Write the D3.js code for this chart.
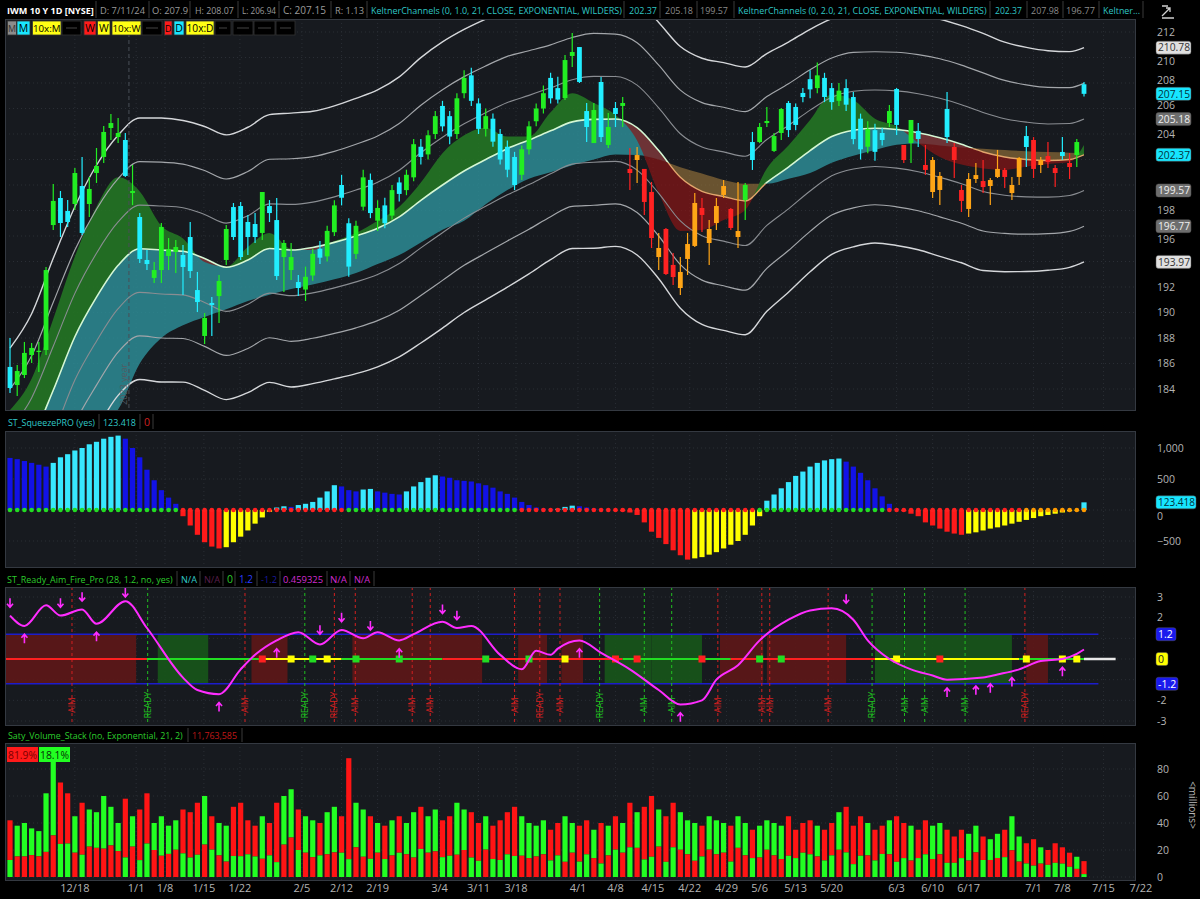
<!DOCTYPE html>
<html><head><meta charset="utf-8">
<script src="https://cdn.jsdelivr.net/npm/d3@7/dist/d3.min.js"></script>
<style>
html,body{margin:0;padding:0;background:#000;}
svg{display:block;}
text{font-family:"Open Sans","DejaVu Sans",sans-serif;}
</style></head>
<body><svg id="chart" width="1200" height="899"></svg>
<script>
// ================= DATA =================
const tickLabels=["12/18","1/1","1/8","1/15","1/22","2/5","2/12","2/19","3/4","3/11","3/18","4/1","4/8","4/15","4/22","4/29","5/6","5/13","5/20","6/3","6/10","6/17","7/1","7/8","7/15","7/22"];
const tickIdx=[9,17.5,21.5,26.9,31.9,40.5,46,51,59.6,65,70.2,78.8,84,89.2,94.3,99.4,104,109,114,123,128,133,142,146,151.7,156.9];

const open=[185.73,184.31,185.10,186.67,186.9,187.06,196.86,198.98,197.96,198.51,
199.92,198.51,200.94,202.20,204.47,203.76,203.53,199.37,197.49,194.12,
192.71,193.33,194.43,194.75,194.51,195.92,191.76,188.16,190.75,191.29,
194.12,198.27,198.35,197.10,196.94,196.24,198.35,197.25,194.35,193.33,
192.39,191.8,192.9,195.0,194.4,196.3,200.0,197.0,194.6,198.3,
200.4,197.2,198.4,197.6,200.2,199.6,200.6,203.0,202.4,204.0,
206.2,205.4,204.0,207.2,208.6,206.4,204.4,205.2,204.0,203.0,
202.2,200.8,202.8,205.0,206.0,208.4,207.6,206.82,210.12,210.82,
205.80,203.29,208.08,203.14,206.04,206.20,201.26,201.96,201.26,199.45,
194.35,196.55,193.73,191.92,194.20,195.22,198.20,195.45,197.02,199.22,
198.12,195.92,198.82,203.37,203.37,204.86,202.67,204.08,206.43,206.12,
207.22,208.3,207.6,208.4,207.6,206.6,207.6,206.9,205.2,203.0,
204.3,204.08,204.86,207.53,203.14,203.29,204.24,201.57,199.45,199.61,
205.96,202.98,199.61,198.12,200.47,200.31,199.92,200.63,201.18,199.37,
200.63,203.84,203.53,201.57,202.27,201.33,202.59,201.73,202.35,207.9];
const high=[188.0,185.88,187.69,187.61,187.69,193.57,200.08,199.53,198.82,201.33,
202.2,200.63,202.90,204.63,205.57,205.26,204.08,201.57,197.80,194.90,
193.96,197.02,195.84,195.69,195.29,197.10,193.18,189.96,191.22,192.94,
196.86,198.59,198.67,197.65,197.80,199.45,198.82,198.98,195.69,195.45,
192.94,193.6,195.0,195.6,196.8,198.8,200.8,197.4,197.2,201.2,
200.9,198.8,199.0,200.0,200.6,201.2,203.6,203.6,204.3,205.8,
206.6,205.8,207.2,209.0,209.2,206.8,206.0,205.6,204.4,203.5,
202.6,203.1,205.0,206.4,207.8,208.8,208.5,210.2,211.92,210.82,
206.43,206.43,208.47,205.65,206.51,206.9,202.9,202.98,201.26,200.24,
196.24,196.63,194.67,194.35,196.24,199.37,198.98,197.25,198.98,200.39,
198.2,200.24,200.16,204.16,204.86,206.12,204.08,206.04,206.59,206.4,
207.6,209.0,209.6,208.8,208.0,208.0,208.3,207.3,205.6,205.0,
204.8,204.5,206.27,207.61,203.14,205.1,204.86,203.14,202.20,201.02,
207.29,203.29,200.0,200.94,201.73,201.96,200.55,202.75,201.33,200.63,
202.2,204.63,203.76,202.2,203.37,201.57,203.76,202.51,203.61,208.07];
const low=[183.69,183.45,184.86,186.04,185.33,186.67,196.47,195.92,196.71,198.04,
196.08,197.49,200.16,201.73,203.53,203.29,200.63,198.43,193.88,193.33,
192.31,192.31,193.33,193.10,191.37,192.71,190.04,187.53,188.16,189.18,
193.73,195.69,194.12,194.51,195.45,195.69,197.10,192.55,191.61,192.55,
191.29,190.9,192.5,193.8,194.0,196.0,198.4,192.8,194.2,198.0,
197.4,196.4,196.6,197.3,198.7,199.2,200.3,201.6,202.0,203.6,
204.2,203.2,203.6,206.8,206.2,204.0,203.8,203.0,201.6,200.6,
199.6,200.4,202.4,204.6,205.6,206.4,206.4,206.67,209.26,208.0,
203.37,203.29,203.37,202.9,204.55,204.55,199.61,200.16,197.65,195.06,
193.33,192.94,192.16,191.37,192.94,195.14,196.31,193.73,196.47,198.98,
196.47,195.06,197.25,201.18,203.29,204.55,202.59,203.53,203.76,204.3,
206.5,206.8,207.2,206.5,205.9,206.2,205.8,203.2,202.0,202.5,
201.9,203.1,204.55,203.92,201.73,201.73,202.98,200.79,198.98,198.43,
203.29,200.55,197.88,197.49,200.16,199.37,198.43,200.55,199.76,198.82,
200.0,201.41,200.55,200.94,201.33,199.84,201.96,200.47,201.41,206.94];
const close=[184.08,185.41,186.83,187.22,187.0,193.33,198.75,197.02,197.10,200.94,
196.24,199.69,201.49,204.16,204.86,204.08,200.71,199.53,194.20,193.80,
193.33,196.71,194.98,195.14,193.57,193.25,190.82,189.57,190.59,192.47,
196.55,195.92,194.35,195.92,195.92,199.45,197.80,192.86,195.45,194.35,
191.92,192.8,194.6,194.3,196.4,198.4,199.0,193.6,196.8,200.6,
197.8,198.2,197.0,199.6,199.3,200.8,203.2,202.2,203.9,205.4,
204.6,203.8,206.8,208.4,206.6,204.4,205.4,203.4,202.0,201.2,
200.0,202.8,204.6,206.0,207.2,206.8,206.7,209.80,210.43,208.08,
204.55,205.88,203.76,204.55,205.57,206.43,200.94,202.35,198.67,195.84,
195.06,193.02,192.78,193.18,195.37,198.59,197.65,196.55,198.35,199.92,
196.63,196.39,200.0,201.96,204.55,205.02,203.84,205.96,204.31,204.71,
206.9,207.5,208.6,206.9,206.5,207.4,206.3,203.6,202.8,204.4,
202.6,203.53,205.80,204.71,201.96,205.10,203.61,201.18,201.96,200.71,
203.76,201.96,198.75,200.47,200.78,199.84,200.39,201.26,200.63,200.0,
202.12,202.98,201.26,201.96,201.80,200.94,202.27,201.41,203.37,207.15];
// trend state of candle colouring (run lengths: [count, 1=bull colours / 0=bear colours])
const trendRuns=[[86,1],[16,0],[22,1],[1,0],[2,1],[3,0],[1,1],[10,0],[1,1],[4,0],[1,1],[1,0],[2,1]];

// ribbon / keltner readings (bar index, price)
const ribIdx=[0,3,6,9,12,15,18,21,24,27,30,33,36,39,42,45,48,51,54,57,60,63,66,69,72,75,78,81,84,87,90,93,96,99,102,105,108,111,114,117,120,123,126,129,132,135,138,141,144,147,149];
const ribMid=[177.6,180.0,183.9,188.1,191.2,193.7,195.0,194.9,194.8,194.24,193.55,194.12,195.02,194.9,195.1,195.5,196.0,196.6,197.5,198.8,200.0,201.1,202.0,202.85,203.53,204.25,204.95,205.15,205.18,204.5,202.7,200.6,199.5,199.1,198.75,200.2,201.4,202.7,203.8,204.3,204.45,204.35,204.1,203.7,203.2,202.59,202.2,202.0,201.92,202.0,202.37];
const ribFast=[182.35,184.8,189.5,194.4,198.3,200.6,199.5,196.8,195.8,193.96,193.6,195.14,196.24,195.0,194.9,195.6,196.24,197.2,198.3,200.2,202.5,203.9,204.5,203.8,203.8,205.7,207.2,206.43,205.49,203.5,199.37,196.4,196.47,197.25,198.04,201.3,203.1,205.1,207.1,206.67,205.2,204.6,203.3,202.2,201.6,201.3,201.18,201.45,201.65,201.8,203.14];
const ribSlow=[176.0,177.3,178.7,179.9,181.1,182.4,186.0,188.0,189.0,189.65,190.25,190.9,191.4,191.85,192.2,192.6,193.1,193.8,194.51,195.5,196.5,197.2,198.5,199.6,200.5,201.0,201.55,202.0,202.4,202.35,202.0,201.4,200.9,200.4,200.1,200.1,200.5,200.95,201.75,202.3,202.75,203.15,203.25,203.1,202.95,202.85,202.75,202.65,202.58,202.53,202.51];
const ribAtr=[3.2,3.3,3.45,3.4,3.45,3.4,3.42,3.45,3.42,3.45,3.46,3.47,3.5,3.58,3.56,3.57,3.6,3.62,3.66,3.73,3.74,3.7,3.67,3.62,3.5,3.37,3.31,3.37,3.33,3.33,3.35,3.42,3.48,3.5,3.5,3.37,3.27,3.17,3.08,3.05,3.0,3.03,3.06,3.1,3.1,3.1,3.0,2.93,2.87,2.82,2.80];
const keltnerMult=[1,2,3];

// squeeze momentum
const sqz=[840,820,790,760,730,700,760,850,900,960,1000,1060,1100,1150,1180,1200,1150,1000,850,650,480,320,200,100,
-100,-250,-400,-520,-590,-620,-600,-520,-430,-330,-220,-120,-30,40,60,50,80,100,130,200,300,400,380,320,300,330,340,
300,280,260,250,300,380,450,520,560,540,520,480,470,460,430,400,360,300,260,200,130,80,40,20,10,20,50,70,
60,40,20,10,5,-10,-20,-40,-80,-200,-350,-450,-550,-650,-730,-800,-780,-760,-720,-680,-620,-560,-500,-400,-250,-100,
150,250,350,450,550,620,700,760,800,820,830,780,700,600,480,350,220,100,20,
-20,-60,-100,-200,-250,-300,-350,-380,-400,-380,-360,-330,-300,-280,-250,-220,-190,-160,-130,-100,-80,-60,-40,-20,-10,123.418];
const sqzDotRuns=[[24,"g"],[23,"r"],[24,"g"],[33,"r"],[18,"g"],[19,"r"],[9,"o"]];

// ready aim fire
const oscIdx=[0,2,5,7,10,12,16,19,24,26,29,32,34,37,40,43,46,49,51,54,56,60,62,64,68,71,73,75,76,79,82,86,90,93,96,98,101,104,108,111,114,117,119,122,125,128,130,135,137,140,143,146,148,149];
const oscVal=[2.1,1.6,2.6,2.1,2.4,1.7,2.8,1.5,-0.9,-1.5,-1.7,-0.5,0.2,0.9,1.3,0.7,1.4,1.0,1.3,0.9,1.2,1.8,1.5,1.6,0.2,-0.5,0.4,0.2,0.5,0.9,0.3,-0.5,-1.5,-2.2,-2.0,-1.0,-0.3,0.9,1.9,2.35,2.45,1.9,0.9,0.0,-0.5,-0.8,-1.0,-0.9,-0.75,-0.5,-0.1,0.0,0.25,0.459];
const zoneFrom=[-1,21,34,48,71,77,83,89.5,99,105.5,120.5,124.5,141.5];
const zoneTo=[17,27,38,65,74,79,88.5,95.5,104,115.5,123.5,138.5,143.5];
const zoneKind=["r","g","r","r","r","r","g","g","r","r","g","g","r"];
const zeroFrom=[-1,19,35,46,60,85,100,120,140];
const zeroTo=[19,35,46,60,85,100,120,140,149];
const zeroKind=["r","g","y","g","r","g","r","y","g"];
const squareIdx=[35,39,42,44,48,54,66,72,77,84,87,96,104,107,123,129,141,146,148];
const squareKind=["r","y","g","y","g","g","g","g","y","r","r","r","g","g","y","r","y","y","y"];
const downArrowIdx=[0,7,10,16,43,46,50,60,62,116];
const downArrowVal=[2.5,2.5,2.8,3.0,1.2,1.8,1.4,2.2,1.9,2.7];
const upArrowIdx=[2,12,29,37,54,79,93,130,134,136,139,146];
const upArrowVal=[1.2,1.3,-2.1,0.5,0.5,0.5,-2.6,-1.4,-1.3,-1.2,-0.9,-0.4];
const signalIdx=[8.6,19.1,32.6,40.9,45,47.9,55.8,58.3,70,73.5,76.3,81.8,88,91.8,98.2,104.3,105.4,113.5,119.6,124.1,126.9,132.5,140.8];
const signalText=["AIM","READY","AIM","READY","READY","AIM","AIM","AIM","AIM","READY","AIM","READY","AIM","AIM","AIM","AIM","AIM","AIM","READY","AIM","AIM","AIM","READY"];
const signalKind=["r","g","r","g","r","r","r","r","r","r","r","g","g","g","r","r","r","r","g","g","g","g","r"];

// volume (millions) and buy share (%)
const volume=[42,38,40,36,34,62,88,70,62,45,55,50,48,60,52,40,58,45,50,62,
40,45,38,42,50,48,55,60,45,40,38,52,55,42,38,45,40,55,60,65,
50,45,42,40,48,52,45,88,55,50,45,40,38,42,45,40,48,52,45,50,
42,45,55,50,48,40,45,38,42,48,52,45,40,38,42,35,40,45,40,38,
42,35,40,38,45,40,55,48,52,60,50,45,55,48,42,40,38,45,42,40,
38,45,40,35,38,42,40,38,45,35,40,42,38,35,40,48,52,38,45,40,
35,38,42,45,40,38,35,42,38,40,35,30,35,32,38,30,28,32,35,45,
30,25,28,22,20,25,22,18,15,11.76];
const buyPct=[30,60,62,55,55,70,65,35,40,60,30,55,55,65,55,52,25,50,25,40,
50,65,55,52,35,30,30,60,45,60,70,30,28,40,40,70,40,20,60,55,
40,60,65,40,65,65,40,15,60,70,30,55,35,62,40,58,70,40,60,62,
35,35,70,60,30,30,55,35,30,35,30,65,65,60,60,35,40,75,55,30,
40,60,25,58,45,55,40,55,25,25,55,25,40,58,60,70,40,55,60,55,
30,52,60,40,62,52,60,65,35,40,45,40,60,35,40,58,35,25,35,60,
35,45,60,25,35,68,40,40,65,58,30,35,40,62,52,42,55,56,42,56,
62,40,30,55,45,42,45,42,60,18.1];

// axis ticks
const priceTicks=[184,186,188,190,192,194,196,198,200,202,204,206,208,210,212];
const sqzTicks=[-500,0,500,1000];
const rafTicks=[-3,-2,-1,0,1,2,3];
const volTicks=[0,20,40,60,80];

// ================= DRAW =================
const svg=d3.select("#chart");
const PL=5, PR=1135, AX=1157;
const x=d3.scaleLinear().domain([0,149]).range([10,1084]);
const step=x(1)-x(0);
const P={price:[19,410],sq:[431,567],raf:[587,725],vol:[743,880]};
const yP=d3.scaleLinear().domain([184,212]).range([389,32]);
const yS=d3.scaleLinear().domain([-500,1000]).range([541,448]);
const yR=d3.scaleLinear().domain([-3,3]).range([721,597]);
const yV=d3.scaleLinear().domain([0,80]).range([877,769]);
const N=open.length;
const bars=d3.range(N);
const trend=[];trendRuns.forEach(([n,v])=>{for(let k=0;k<n;k++)trend.push(v);});
const dotKind=[];sqzDotRuns.forEach(([n,v])=>{for(let k=0;k<n;k++)dotKind.push(v);});

// shrink a text until it fits a width
function fit(sel,w,size){
  sel.attr("font-size",size);
  const n=sel.node(),len=n.getComputedTextLength();
  if(len>w) sel.attr("font-size",(size*w/len).toFixed(2));
  return sel;
}

svg.append("rect").attr("width",1200).attr("height",899).attr("fill","#000");
const defs=svg.append("defs");
Object.entries(P).forEach(([k,[t,b]])=>{
  svg.append("rect").attr("x",PL+0.5).attr("y",t+0.5).attr("width",PR-PL).attr("height",b-t)
    .attr("fill","#171a1f").attr("stroke","#343941");
  defs.append("clipPath").attr("id","clip-"+k).append("rect").attr("x",PL+1).attr("y",t+1).attr("width",PR-PL-1).attr("height",b-t-1);
});

// grid
function grid(key,scale,ticks){
  const [t,b]=P[key];
  const g=svg.append("g").attr("clip-path","url(#clip-"+key+")");
  g.selectAll("line.v").data(tickIdx).join("line").attr("x1",d=>x(d)).attr("x2",d=>x(d)).attr("y1",t).attr("y2",b)
    .attr("stroke","#2a2e35").attr("stroke-dasharray","1,3");
  g.selectAll("line.h").data(ticks).join("line").attr("x1",PL).attr("x2",PR).attr("y1",d=>scale(d)).attr("y2",d=>scale(d))
    .attr("stroke","#2a2e35").attr("stroke-dasharray","1,3");
}
grid("price",yP,priceTicks);grid("sq",yS,sqzTicks);grid("raf",yR,rafTicks);grid("vol",yV,volTicks);

// ---------- price panel ----------
const rib=ribIdx.map((d,i)=>({i:d,mid:ribMid[i],fast:ribFast[i],slow:ribSlow[i],atr:ribAtr[i]}));
const curve=d3.curveMonotoneX;
defs.append("clipPath").attr("id","aboveMid").append("path")
  .attr("d",d3.area().x(d=>x(d.i)).y0(-50).y1(d=>yP(d.mid)).curve(curve)(rib));
defs.append("clipPath").attr("id","belowMid").append("path")
  .attr("d",d3.area().x(d=>x(d.i)).y0(d=>yP(d.mid)).y1(600).curve(curve)(rib));
defs.append("clipPath").attr("id","aboveSlow").append("path")
  .attr("d",d3.area().x(d=>x(d.i)).y0(-50).y1(d=>yP(d.slow)).curve(curve)(rib));
defs.append("clipPath").attr("id","belowSlow").append("path")
  .attr("d",d3.area().x(d=>x(d.i)).y0(d=>yP(d.slow)).y1(600).curve(curve)(rib));
const gp=svg.append("g").attr("clip-path","url(#clip-price)");
const areaFM=d3.area().x(d=>x(d.i)).y0(d=>yP(d.mid)).y1(d=>yP(d.fast)).curve(curve);
const areaMS=d3.area().x(d=>x(d.i)).y0(d=>yP(d.mid)).y1(d=>yP(d.slow)).curve(curve);
gp.append("g").attr("clip-path","url(#belowMid)").append("path").attr("d",areaMS(rib)).attr("fill","#2d8c95").attr("opacity",0.85);
gp.append("g").attr("clip-path","url(#aboveMid)").append("path").attr("d",areaMS(rib)).attr("fill","#a07a3c").attr("opacity",0.6);
gp.append("g").attr("clip-path","url(#aboveMid)").append("path").attr("d",areaFM(rib)).attr("fill","#237523").attr("opacity",0.9);
gp.append("g").attr("clip-path","url(#belowMid)").append("path").attr("d",areaFM(rib)).attr("fill","#8a1616").attr("opacity",0.7);
// keltner bands
const bandStyle={1:["#8a8d92",1.1],2:["#a3a6aa",1.2],3:["#d5d7da",1.4]};
keltnerMult.forEach(k=>{
  [1,-1].forEach(s=>{
    gp.append("path").attr("d",d3.line().x(d=>x(d.i)).y(d=>yP(d.mid+s*k*d.atr)).curve(curve)(rib))
      .attr("fill","none").attr("stroke",bandStyle[k][0]).attr("stroke-width",bandStyle[k][1]);
  });
});
// mid line
const midLine=d3.line().x(d=>x(d.i)).y(d=>yP(d.mid)).curve(curve)(rib);
gp.append("g").attr("clip-path","url(#aboveSlow)").append("path").attr("d",midLine).attr("fill","none").attr("stroke","#d4f7d4").attr("stroke-width",1.6);
gp.append("g").attr("clip-path","url(#belowSlow)").append("path").attr("d",midLine).attr("fill","none").attr("stroke","#e2a46c").attr("stroke-width",1.4);
// year separator
gp.append("line").attr("x1",x(16.5)).attr("x2",x(16.5)).attr("y1",P.price[0]).attr("y2",P.price[1]).attr("stroke","#4a4f57").attr("stroke-dasharray","4,3");
gp.append("text").attr("transform",`translate(${x(16.5)-2},405) rotate(-90)`).attr("font-size",9).attr("fill","#555a62").text("2023 year");
// candles
function candleColor(i){const up=close[i]>=open[i];return trend[i]?(up?"#22ee22":"#22eeff"):(up?"#ffa516":"#ff2222");}
gp.selectAll("line.wick").data(bars).join("line").attr("x1",i=>x(i)).attr("x2",i=>x(i))
  .attr("y1",i=>yP(high[i])).attr("y2",i=>yP(low[i])).attr("stroke",candleColor).attr("stroke-width",1.2);
gp.selectAll("rect.body").data(bars).join("rect").attr("x",i=>x(i)-2.4).attr("width",4.8)
  .attr("y",i=>yP(Math.max(open[i],close[i]))).attr("height",i=>Math.max(1.2,Math.abs(yP(open[i])-yP(close[i]))))
  .attr("fill",candleColor);

// ---------- squeeze panel ----------
const gs=svg.append("g").attr("clip-path","url(#clip-sq)");
function sqColor(i){const v=sqz[i];const rising=i>0&&v>=sqz[i-1];return v>=0?(rising?"#38e8ff":"#1212e6"):(rising?"#ffff00":"#ff1a1a");}
gs.selectAll("rect").data(bars).join("rect").attr("x",i=>x(i)-2.6).attr("width",5.2)
  .attr("y",i=>Math.min(yS(0),yS(sqz[i]))).attr("height",i=>Math.abs(yS(sqz[i])-yS(0))).attr("fill",sqColor);
const dotCol={g:"#22dd22",r:"#ff2020",k:"#000000",o:"#ff9a00"};
gs.selectAll("circle").data(bars).join("circle").attr("cx",i=>x(i)).attr("cy",yS(0)).attr("r",2.3).attr("fill",i=>dotCol[dotKind[i]]);

// ---------- RAF panel ----------
const gr=svg.append("g").attr("clip-path","url(#clip-raf)");
const zoneCol={r:"#5e1717",g:"#17561a"};
gr.selectAll("rect.z").data(zoneFrom).join("rect").attr("x",(d,i)=>x(d)-step/2).attr("width",(d,i)=>x(zoneTo[i])-x(d)+step)
  .attr("y",yR(1.2)).attr("height",yR(-1.2)-yR(1.2)).attr("fill",(d,i)=>zoneCol[zoneKind[i]]).attr("opacity",0.9);
[1.2,-1.2].forEach(v=>gr.append("line").attr("x1",PL).attr("x2",x(151)).attr("y1",yR(v)).attr("y2",yR(v)).attr("stroke","#1c1ccc").attr("stroke-width",1.5));
const sigCol={r:"#d42020",g:"#20c020"};
signalIdx.forEach((d,i)=>{
  gr.append("line").attr("x1",x(d)).attr("x2",x(d)).attr("y1",P.raf[0]).attr("y2",P.raf[1]).attr("stroke",sigCol[signalKind[i]]).attr("stroke-dasharray","3,3").attr("stroke-width",1);
  gr.append("text").attr("transform",`translate(${x(d)+3},705) rotate(-90)`).attr("text-anchor","middle").attr("font-size",8.5).attr("fill",sigCol[signalKind[i]]).text(signalText[i]);
});
const zeroCol={r:"#ff2020",g:"#22dd22",y:"#ffff00"};
gr.append("line").attr("x1",x(149)).attr("x2",x(152)+10).attr("y1",yR(0)).attr("y2",yR(0)).attr("stroke","#e8e8e8").attr("stroke-width",2.5);
zeroFrom.forEach((d,i)=>gr.append("line").attr("x1",x(d)).attr("x2",x(zeroTo[i])).attr("y1",yR(0)).attr("y2",yR(0)).attr("stroke",zeroCol[zeroKind[i]]).attr("stroke-width",2));
gr.selectAll("rect.sq").data(squareIdx).join("rect").attr("x",d=>x(d)-3.5).attr("y",yR(0)-3.5).attr("width",7).attr("height",7)
  .attr("fill",(d,i)=>zeroCol[squareKind[i]]);
gr.append("path").attr("d",d3.line().x((d,i)=>x(d)).y((d,i)=>yR(oscVal[i])).curve(curve)(oscIdx)).attr("fill","none").attr("stroke","#ff2cff").attr("stroke-width",2);
downArrowIdx.forEach((d,i)=>{const cx=x(d),cy=yR(downArrowVal[i]);
  gr.append("path").attr("d",`M${cx},${cy-9}L${cx},${cy}M${cx-3},${cy-3.5}L${cx},${cy}L${cx+3},${cy-3.5}`).attr("stroke","#ff2cff").attr("stroke-width",1.6).attr("fill","none");});
upArrowIdx.forEach((d,i)=>{const cx=x(d),cy=yR(upArrowVal[i]);
  gr.append("path").attr("d",`M${cx},${cy+9}L${cx},${cy}M${cx-3},${cy+3.5}L${cx},${cy}L${cx+3},${cy+3.5}`).attr("stroke","#ff2cff").attr("stroke-width",1.6).attr("fill","none");});

// ---------- volume panel ----------
const gv=svg.append("g").attr("clip-path","url(#clip-vol)");
bars.forEach(i=>{
  const v=volume[i],b=buyPct[i]/100,buy=v*b,sell=v-buy;
  const minor=Math.min(buy,sell),minorCol=buy<sell?"#22ff22":"#ff1414",majorCol=buy<sell?"#ff1414":"#22ff22";
  gv.append("rect").attr("x",x(i)-2.6).attr("width",5.2).attr("y",yV(v)).attr("height",yV(minor)-yV(v)).attr("fill",majorCol);
  gv.append("rect").attr("x",x(i)-2.6).attr("width",5.2).attr("y",yV(minor)).attr("height",yV(0)-yV(minor)).attr("fill",minorCol);
});

// ---------- x axis ----------
svg.selectAll("text.xt").data(tickLabels).join("text").attr("x",(d,i)=>x(tickIdx[i])).attr("y",892).attr("text-anchor","middle")
  .attr("font-size",11).attr("fill","#b4b4b4").text(d=>d);

// ---------- right axes (labels hidden behind a value badge are left out, near ones nudged clear) ----------
const lastMid=ribMid[ribMid.length-1],lastAtr=ribAtr[ribAtr.length-1];
const badges=[
  [yP(lastMid+3*lastAtr),"210.78","#e0e0e0","#333",35],
  [yP(close[N-1]),"207.15","#16e6ff","#05303a",35],
  [yP(lastMid+lastAtr),"205.18","#6e6e6e","#eee",35],
  [yP(lastMid),"202.37","#16e6ff","#05303a",35],
  [yP(lastMid-lastAtr),"199.57","#6e6e6e","#eee",35],
  [yP(lastMid-2*lastAtr),"196.77","#6e6e6e","#eee",35],
  [yP(lastMid-3*lastAtr),"193.97","#e0e0e0","#333",35],
  [yS(sqz[N-1]),"123.418","#16e6ff","#05303a",40],
  [yR(1.2),"1.2","#1a1aee","#fff",20],
  [yR(0),"0","#ffff00","#222",12],
  [yR(-1.2),"-1.2","#1a1aee","#fff",22]];
function axisLabels(scale,ticks,fmt){
  ticks.forEach(t=>{
    let y=scale(t);
    const near=badges.filter(b=>Math.abs(b[0]-y)<13.5);
    if(near.some(b=>Math.abs(b[0]-y)<7.5)) return;
    near.forEach(b=>{y=b[0]+(y>b[0]?13.5:-13.5);});
    svg.append("text").attr("x",AX).attr("y",y+3.8).attr("font-size",10.5).attr("fill","#b4b4b4").text(fmt(t));
  });
}
axisLabels(yP,priceTicks,d=>d);
axisLabels(yS,sqzTicks,d3.format(","));
axisLabels(yR,rafTicks,d=>d);
axisLabels(yV,volTicks,d=>d);
badges.forEach(([y,txt,bg,fg,w])=>{
  svg.append("rect").attr("x",AX-1).attr("y",y-6.5).attr("width",w).attr("height",13).attr("rx",2.5).attr("fill",bg).attr("stroke","#555").attr("stroke-width",0.5);
  fit(svg.append("text").attr("x",AX+1).attr("y",y+3.8).attr("fill",fg).text(txt),w-3,10.5);
});
svg.append("text").attr("transform","translate(1189,805) rotate(90)").attr("text-anchor","middle").attr("font-size",10).attr("fill","#b4b4b4").text("<millions>");

// ---------- headers ----------
function headerRow(y0,h,cells,seps,full){
  svg.append("rect").attr("x",0).attr("y",y0).attr("width",full||PR).attr("height",h).attr("fill","#000");
  seps.forEach(s=>svg.append("line").attr("x1",s).attr("x2",s).attr("y1",y0+1).attr("y2",y0+h-1).attr("stroke","#3b3b3b"));
  cells.forEach(c=>fit(svg.append("text").attr("x",c[0]).attr("y",y0+h/2+4).attr("font-weight",c[4]||400)
    .attr("fill",c[3]).text(c[2]),c[1],11));
}
headerRow(0,19,[[7,87,"IWM 10 Y 1D [NYSE]","#ffffff",700],[100,45,"D: 7/11/24","#9a9a9a"],[152,36,"O: 207.9","#9a9a9a"],[195,39,"H: 208.07","#9a9a9a"],
 [242,34,"L: 206.94","#9a9a9a"],[283,43,"C: 207.15","#9a9a9a"],[335,29,"R: 1.13","#9a9a9a"],
 [371,251,"KeltnerChannels (0, 1.0, 21, CLOSE, EXPONENTIAL, WILDERS)","#2fc6c6"],[629,28,"202.37","#2fc6c6"],[665,28,"205.18","#8a8a8a"],[700,28,"199.57","#8a8a8a"],
 [738,249,"KeltnerChannels (0, 2.0, 21, CLOSE, EXPONENTIAL, WILDERS)","#2fc6c6"],[995,27,"202.37","#2fc6c6"],[1031,28,"207.98","#8a8a8a"],[1066,29,"196.77","#8a8a8a"],[1103,37,"Keltner...","#2fc6c6"]],
 [96,149,190,238,279,331,367,624,660,697,734,990,1027,1063,1099,1143],1145);
// icon
svg.append("path").attr("d","M1162,16 L1170,8 M1166,8 L1170,8 L1170,12 M1162,6 L1168,6 M1162,18 L1174,18").attr("stroke","#cfcfcf").attr("stroke-width",1.3).attr("fill","none");
// buttons row
const btns=[[7.5,9,"M","#8c8c8c","#333"],[17,13,"M","#19e6ff","#000"],[32.5,28.5,"10x:M","#ffff14","#000"],[62,19,"","#000","#000"],
 [84,12,"W","#ff1a1a","#000"],[97.5,12.5,"W","#ffff14","#000"],[112,29,"10x:W","#ffff14","#000"],[142,20,"","#000","#000"],
 [164.5,7.5,"D","#ff1a1a","#000"],[174,10,"D","#19e6ff","#000"],[186,28,"10x:D","#ffff14","#000"],
 [215,16,"","#000","#000"],[233,20,"","#000","#000"],[254,21,"","#000","#000"],[276,19,"","#000","#000"]];
btns.forEach(b=>{
  svg.append("rect").attr("x",b[0]).attr("y",21).attr("width",b[1]).attr("height",14).attr("fill",b[3]).attr("stroke","#333").attr("stroke-width",0.8);
  if(b[2]) fit(svg.append("text").attr("x",b[0]+b[1]/2).attr("y",32).attr("text-anchor","middle").attr("fill",b[4]).text(b[2]),b[1]-1,10.5);
  else svg.append("line").attr("x1",b[0]+4).attr("x2",b[0]+b[1]-4).attr("y1",28).attr("y2",28).attr("stroke","#444");
});
headerRow(413,17,[[8,87,"ST_SqueezePRO (yes)","#30c8c8"],[103,33,"123.418","#30c8c8"],[144,6,"0","#d02020"]],[99,140,153]);
headerRow(570,17,[[7,166,"ST_Ready_Aim_Fire_Pro (28, 1.2, no, yes)","#2ccc2c"],[181,16,"N/A","#30c8c8"],[204,16,"N/A","#5a1f4c"],[227,6,"0","#2ccc2c"],
 [239,14,"1.2","#2a3cff"],[261,16,"-1.2","#1a1a9c"],[283,40,"0.459325","#d02cd0"],[330,17,"N/A","#d02cd0"],[354,16,"N/A","#d02cd0"]],[177,200,223,235,257,280,327,350,374]);
headerRow(727,16,[[8,175,"Saty_Volume_Stack (no, Exponential, 21, 2)","#2ccc2c"],[192,45,"11,763,585","#c01818"]],[188,242]);
svg.append("rect").attr("x",7).attr("y",747).attr("width",31).attr("height",15).attr("fill","#ff1a1a");
fit(svg.append("text").attr("x",22.5).attr("y",758.5).attr("text-anchor","middle").attr("fill","#7a0000").text("81.9%"),29,10.5);
svg.append("rect").attr("x",39).attr("y",747).attr("width",31).attr("height",15).attr("fill","#22ff22");
fit(svg.append("text").attr("x",54.5).attr("y",758.5).attr("text-anchor","middle").attr("fill","#053005").text("18.1%"),29,10.5);
</script></body></html>
